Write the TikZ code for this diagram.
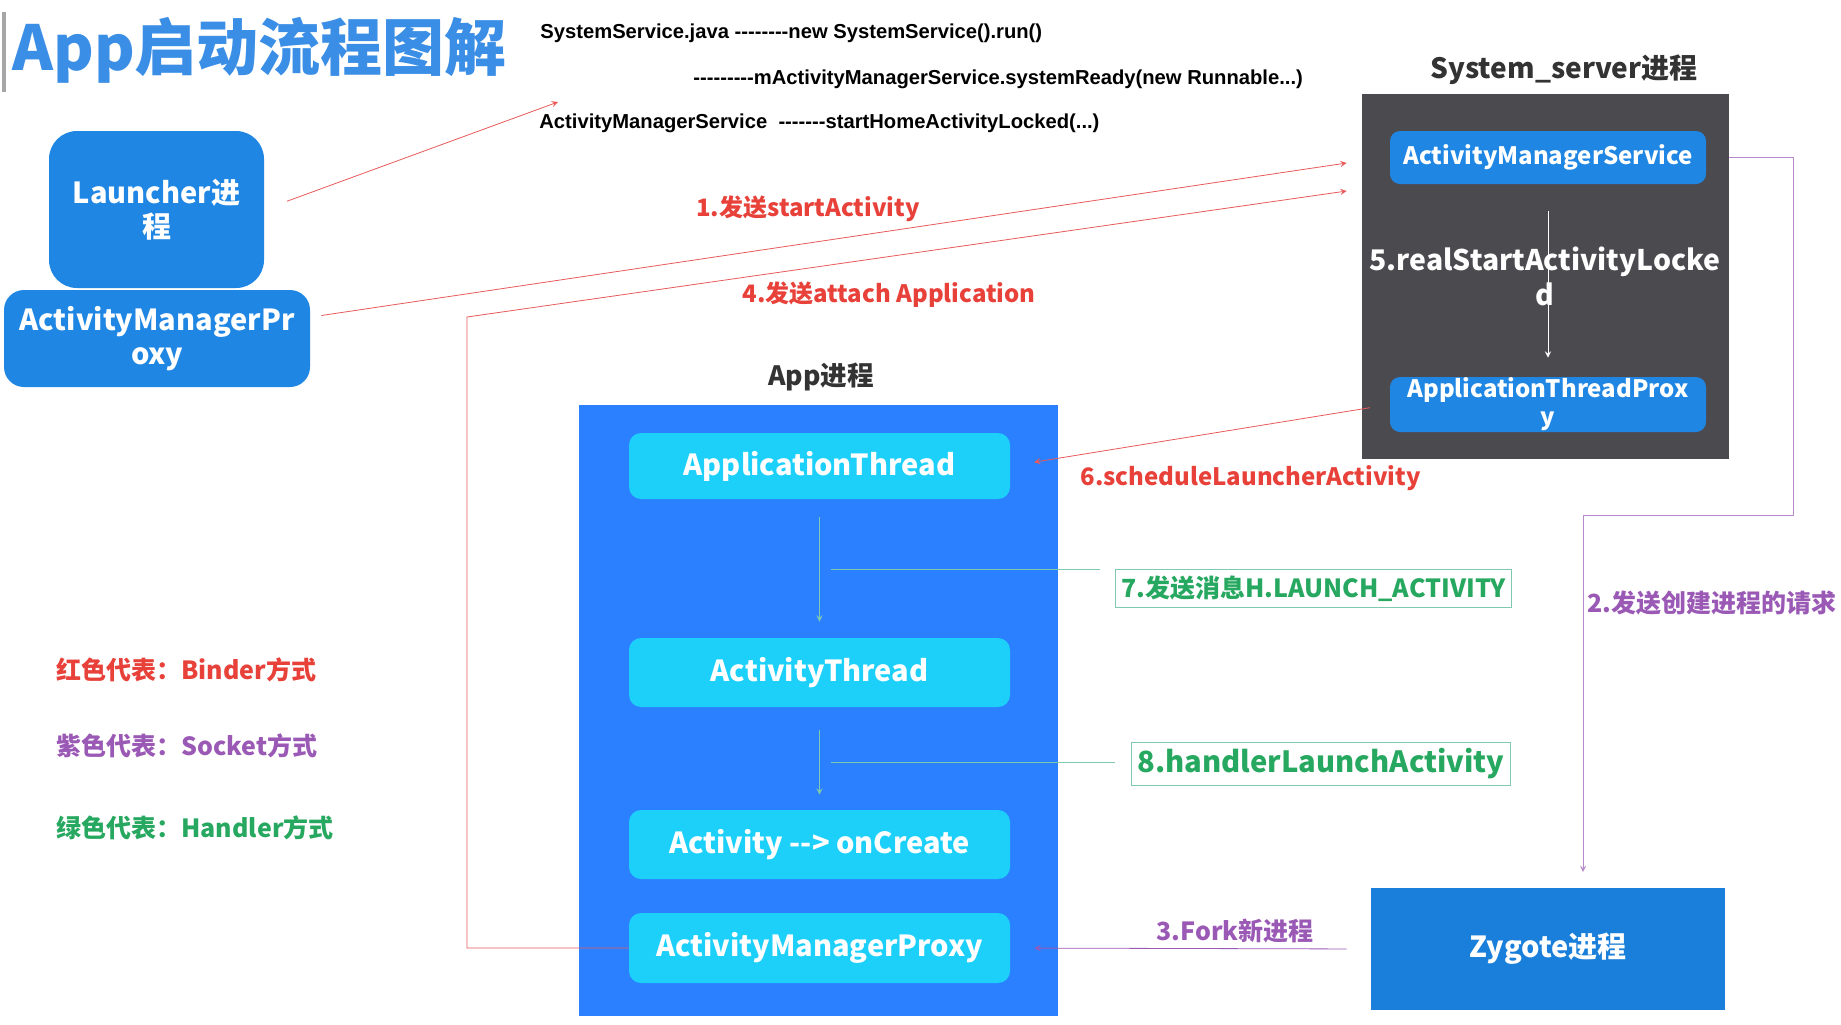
\documentclass[tikz,border=0pt]{standalone}
\usepackage{fontspec}
\setmainfont{Noto Sans CJK SC}
\newfontfamily\codefont{Liberation Sans}
\usepackage{tikz}
\definecolor{titleblue}{HTML}{3A8EE6}
\definecolor{nodeblue}{HTML}{1F87E3}
\definecolor{darkgray}{HTML}{4B4A4F}
\definecolor{appblue}{HTML}{2A80FF}
\definecolor{cyannode}{HTML}{1DD0FA}
\definecolor{zygoteblue}{HTML}{1A7FDA}
\definecolor{binderred}{HTML}{E8413A}
\definecolor{redline}{HTML}{E85A5A}
\definecolor{socketpurple}{HTML}{9B59B6}
\definecolor{handlergreen}{HTML}{27A860}
\definecolor{greenline}{HTML}{7FC9B0}
\tikzstyle{bluebox}=[rectangle,rounded corners=10pt,fill=nodeblue,text=white,align=center,inner sep=0pt,font=\bfseries\fontsize{14.5}{17}\selectfont]
\tikzstyle{sysbox}=[rectangle,rounded corners=5pt,fill=nodeblue,text=white,align=center,inner sep=0pt,minimum width=158pt,font=\bfseries\fontsize{12}{14}\selectfont]
\tikzstyle{appnode}=[rectangle,rounded corners=6pt,fill=cyannode,text=white,inner sep=0pt,minimum width=190.5pt,font=\bfseries\fontsize{14.5}{17}\selectfont]
\tikzstyle{code}=[anchor=west,inner sep=0pt,font=\codefont\bfseries\fontsize{10.1}{12}\selectfont]
\tikzstyle{steplabel}=[inner sep=0pt,font=\bfseries\fontsize{12}{14}\selectfont]
\tikzstyle{greenbox}=[draw=greenline,fill=white,text=handlergreen,inner sep=3pt,font=\bfseries\fontsize{12.5}{14}\selectfont]
\tikzstyle{legend}=[anchor=west,inner sep=0pt,font=\bfseries\fontsize{12.5}{14}\selectfont]

\begin{document}
\begin{tikzpicture}[x=0.5pt, y=-0.5pt, >=stealth]
\useasboundingbox[fill=white] (0, 0) rectangle (1841, 1024);
% title
\fill[gray!70] (2, 12) rectangle (6, 92);
\node[anchor=west, inner sep=0pt, text=titleblue, font=\bfseries\fontsize{31}{36}\selectfont] at (12, 50) (title) {App启动流程图解};
% launcher side
\node[bluebox, minimum width=107.5pt, minimum height=78.5pt, rounded corners=14pt] at (156.5, 209.5) (launcher) {Launcher进\\程};
\node[bluebox, minimum width=153pt, minimum height=48.5pt] at (157, 338.5) (amproxy) {ActivityManagerPr\\oxy};
% code notes
\node[code] at (540, 33) (line1) {SystemService.java --------new SystemService().run()};
\node[code] at (693, 79) (line2) {---------mActivityManagerService.systemReady(new Runnable...)};
\node[code] at (539, 123) (line3) {ActivityManagerService\ \ -------startHomeActivityLocked(...)};
\coordinate (codetip) at (558, 102);
% system_server
\node[font=\bfseries\fontsize{14}{16}\selectfont, text=black!80] at (1564, 70) (syslabel) {System\_server进程};
\node[rectangle, fill=darkgray, minimum width=183.5pt, minimum height=182.5pt] at (1545.5, 276.5) (sysserver) {};
\node[sysbox, minimum height=26.5pt] at (1548, 157.5) (ams) {ActivityManagerService};
\node[sysbox, minimum height=27.5pt] at (1548, 404.5) (atproxy) {ApplicationThreadProx\\y};
\node[text=white, align=center, font=\bfseries\fontsize{14.2}{17.5}\selectfont] at (1545, 276) (step5) {5.realStartActivityLocke\\d};
% app process
\node[font=\bfseries\fontsize{13.3}{16}\selectfont, text=black!80] at (821, 377) (applabel) {App进程};
\node[rectangle, fill=appblue, minimum width=239.5pt, minimum height=305.5pt] at (818.5, 710.5) (appbox) {};
\node[appnode, minimum height=33pt] at (819.5, 466) (appthread) {ApplicationThread};
\node[appnode, minimum height=34.5pt] at (819.5, 672.5) (actthread) {ActivityThread};
\node[appnode, minimum height=34.5pt] at (819.5, 844.5) (oncreate) {Activity -{}-> onCreate};
\node[appnode, minimum height=35pt] at (819.5, 948) (appproxy) {ActivityManagerProxy};
% zygote
\node[rectangle, fill=zygoteblue, text=white, minimum width=177pt, minimum height=61pt, font=\bfseries\fontsize{14.5}{17}\selectfont] at (1548, 949) (zygote) {Zygote进程};
% labels
\node[steplabel, text=binderred] at (808, 209) (step1) {1.发送startActivity};
\node[steplabel, text=binderred] at (889, 295) (step4) {4.发送attach Application};
\node[steplabel, text=binderred, anchor=west] at (1080, 478) (step6) {6.scheduleLauncherActivity};
\node[steplabel, text=socketpurple, anchor=west, font=\bfseries\fontsize{12.5}{14}\selectfont] at (1587, 603) (step2) {2.发送创建进程的请求};
\node[steplabel, text=socketpurple, font=\bfseries\fontsize{12.5}{14}\selectfont] at (1235, 931) (step3) {3.Fork新进程};
\node[greenbox, anchor=north west] at (1115, 569) (step7) {7.发送消息H.LAUNCH\_ACTIVITY};
\node[greenbox, anchor=west, font=\bfseries\fontsize{14.6}{16}\selectfont] at (1131, 764) (step8) {8.handlerLaunchActivity};
% legend
\node[legend, text=binderred] at (56, 670) (legred) {红色代表：Binder方式};
\node[legend, text=socketpurple] at (56, 746) (legpurple) {紫色代表：Socket方式};
\node[legend, text=handlergreen] at (56, 828) (leggreen) {绿色代表：Handler方式};
% binder
\coordinate (bend4) at (467, 317);
\draw[->, redline, shorten <=12pt] (launcher.east) -- (codetip);
\draw[->, redline] ([shift={(11,-23)}]amproxy.east) -- ([shift={(-43,5.5)}]ams.west);
\draw[->, redline] (appproxy.west) -| (bend4) -- ([shift={(-43,33.5)}]ams.west);
\draw[->, redline, shorten <=10pt, shorten >=12pt] (atproxy.west) -- (appthread.east);
\draw[->, white, shorten <=13.5pt, shorten >=9.5pt] (ams) edge (atproxy);
% socket
\coordinate (sock1) at (1793, 515);
\coordinate (sock2) at (1583, 872);
\draw[->, socketpurple!70] (ams.east -| sysserver.east) -| (sock1) -| (sock2);
\draw[->, socketpurple, shorten <=12pt, shorten >=12pt] (zygote.west) -- (appproxy.east);
% handler
\coordinate (hand7) at (831, 569);
\coordinate (hand8) at (831, 762);
\draw[->, greenline, shorten <=9pt, shorten >=8pt] (appthread) edge (actthread);
\draw[->, greenline, shorten <=11.5pt, shorten >=7.5pt] (actthread) edge (oncreate);
\draw[greenline, shorten >=7.5pt] (hand7) -- (step7.north west);
\draw[greenline, shorten >=8pt] (hand8) -- (hand8 -| step8.west);
\end{tikzpicture}
\end{document}
